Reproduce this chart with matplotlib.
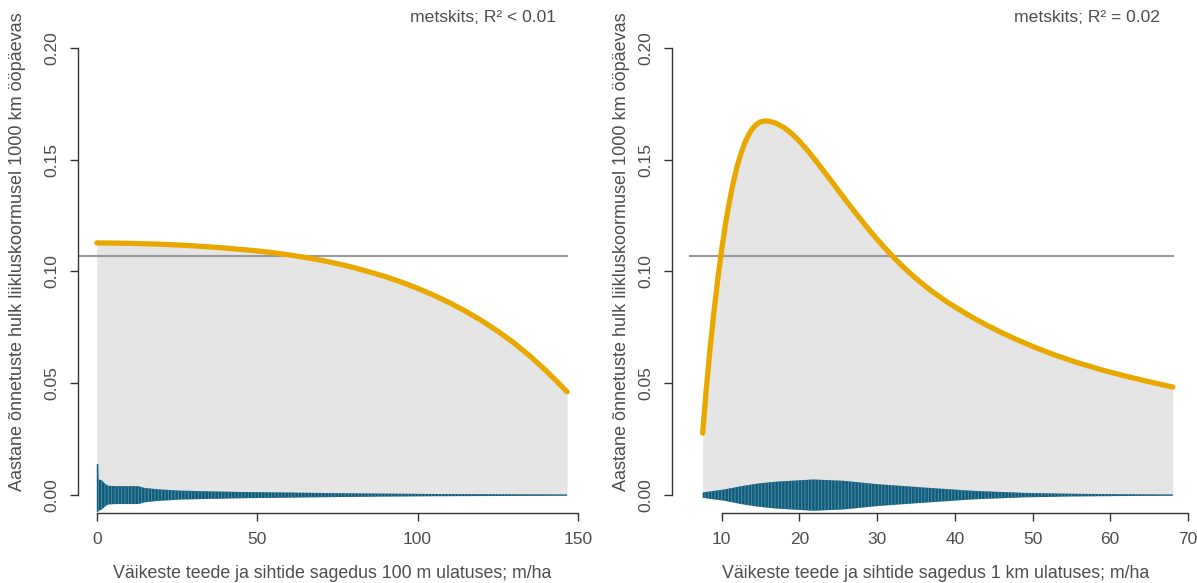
import matplotlib
matplotlib.use("Agg")
import matplotlib.pyplot as plt

plt.rcParams["font.family"] = ["Liberation Sans", "DejaVu Sans"]
plt.rcParams["hatch.linewidth"] = 0.6

# predicted accident rate, 100 m window
x_100m = [0, 10, 20, 30, 40, 50, 55, 60, 65, 70, 75, 80, 85, 90, 95, 100,
          105, 110, 115, 120, 125, 130, 135, 140, 143.3, 146.6]
y_100m = [0.1128, 0.1126, 0.1122, 0.1115, 0.1105, 0.1092, 0.1084, 0.1074,
          0.1063, 0.1050, 0.1035, 0.1018, 0.0998, 0.0977, 0.0952, 0.0925,
          0.0894, 0.0860, 0.0822, 0.0780, 0.0733, 0.0681, 0.0622, 0.0557,
          0.0510, 0.0462]
# confidence band around zero, 100 m window
band_x_100m = [0, 0.45, 0.55, 1.5, 2.5, 3.5, 6, 10, 13, 15, 19, 26, 35, 45,
               57, 73, 88, 105, 125, 146.6]
band_hi_100m = [0.0139, 0.0139, 0.0070, 0.0067, 0.0052, 0.0042, 0.0040, 0.0040,
                0.0040, 0.0032, 0.0026, 0.0020, 0.0017, 0.0014, 0.0012, 0.0009,
                0.0007, 0.0005, 0.0004, 0.0003]
band_lo_100m = [-0.0075, -0.0075, -0.0070, -0.0065, -0.0052, -0.0042, -0.0040,
                -0.0040, -0.0040, -0.0032, -0.0026, -0.0020, -0.0017, -0.0014,
                -0.0012, -0.0009, -0.0007, -0.0005, -0.0004, -0.0003]
mean_x_100m = [-5.5, 146.6]

# predicted accident rate, 1 km window
x_1km = [7.55, 8.0, 8.5, 9.0, 9.5, 10.0, 10.5, 11.0, 11.5, 12.0, 12.5, 13.0,
         13.5, 14.0, 14.5, 15.0, 15.5, 16.0, 17, 18, 19, 20, 21, 22, 23, 24,
         25, 26, 27, 28, 29, 30, 31, 32, 33, 34, 35, 36, 37, 38, 39, 40, 42,
         44, 46, 48, 50, 53, 56, 59, 62, 65, 68.06]
y_1km = [0.0277, 0.0470, 0.0655, 0.0820, 0.0968, 0.1100, 0.1215, 0.1315,
         0.1400, 0.1472, 0.1530, 0.1578, 0.1614, 0.1641, 0.1659, 0.1669,
         0.1673, 0.1673, 0.1663, 0.1644, 0.1617, 0.1583, 0.1543, 0.1500,
         0.1455, 0.1409, 0.1363, 0.1317, 0.1272, 0.1228, 0.1185, 0.1144,
         0.1105, 0.1068, 0.1033, 0.1000, 0.0969, 0.0940, 0.0913, 0.0888,
         0.0864, 0.0842, 0.0800, 0.0762, 0.0727, 0.0695, 0.0665, 0.0625,
         0.0590, 0.0559, 0.0532, 0.0507, 0.0483]
band_x_1km = [7.55, 10.3, 12.5, 14.7, 17, 18.9, 21.8, 25.7, 30, 36, 42.4, 48.9,
              55.3, 61.8, 68.06]
band_hw_1km = [0.0012, 0.0025, 0.0040, 0.0052, 0.0060, 0.0064, 0.0070, 0.0064,
               0.0049, 0.0034, 0.0019, 0.0010, 0.0006, 0.0004, 0.0003]
mean_x_1km = [5.9, 68.06]

mean_rate = 0.107
r2_labels = ["metskits; R\u00b2 < 0.01", "metskits; R\u00b2 = 0.02"]
xlabels = ["V\u00e4ikeste teede ja sihtide sagedus 100 m ulatuses; m/ha",
           "V\u00e4ikeste teede ja sihtide sagedus 1 km ulatuses; m/ha"]
ylabel = "Aastane \u00f5nnetuste hulk liikluskoormusel 1000 km \u00f6\u00f6p\u00e4evas"

W, H = 1197, 583
fig = plt.figure(figsize=(W / 100, H / 100), dpi=100)
ax1 = fig.add_axes([78 / W, 70 / H, 508 / W, 483 / H])
ax2 = fig.add_axes([672 / W, 70 / H, 519 / W, 483 / H])

ORANGE = "#E8A800"
TEAL = "#0E5C7C"
TXT = "#4D4D4D"


def panel(ax, x, y, bx, blo, bhi, mx, xticks, xlim, title):
    ax.fill_between(x, 0, y, color="#E5E5E5", lw=0, zorder=1)
    ax.plot(mx, [mean_rate, mean_rate], color="#999999", lw=1.5, zorder=2)
    ax.fill_between(bx, blo, bhi, facecolor=TEAL, edgecolor="#5E93AA",
                    hatch="|||||", lw=0, zorder=3)
    ax.plot(x, y, color=ORANGE, lw=3.8, solid_capstyle="round",
            solid_joinstyle="round", zorder=4)

    ax.set_xlim(*xlim)
    ax.set_ylim(-0.008, 0.208)
    ax.set_xticks(xticks)
    ax.set_xticklabels([str(t) for t in xticks])
    yt = [0, 0.05, 0.10, 0.15, 0.20]
    ax.set_yticks(yt)
    ax.set_yticklabels(["%.2f" % t for t in yt], rotation=90, va="center")
    for s in ["top", "right"]:
        ax.spines[s].set_visible(False)
    ax.spines["left"].set_bounds(0, 0.2)
    ax.spines["bottom"].set_bounds(xticks[0], xticks[-1])
    for s in ["left", "bottom"]:
        ax.spines[s].set_color("#333333")
        ax.spines[s].set_linewidth(1.0)
    ax.tick_params(axis="both", direction="out", length=5.5, width=1.0,
                   color="#333333", labelcolor=TXT, labelsize=12.5)
    ax.tick_params(axis="x", pad=8)
    ax.tick_params(axis="y", pad=8)
    ax.text(0.94, 1.025, title, transform=ax.transAxes, ha="right",
            va="center", fontsize=12.6, color=TXT)


panel(ax1, x_100m, y_100m, band_x_100m, band_lo_100m, band_hi_100m,
      mean_x_100m, [0, 50, 100, 150], (-5.86, 152.5), r2_labels[0])
panel(ax2, x_1km, y_1km, band_x_1km, [-v for v in band_hw_1km], band_hw_1km,
      mean_x_1km, [10, 20, 30, 40, 50, 60, 70], (3.6, 70.4), r2_labels[1])

fig.text(332 / W, 1 - 574 / H, xlabels[0], ha="center", va="center",
         fontsize=12.8, color=TXT)
fig.text(936 / W, 1 - 573 / H, xlabels[1], ha="center", va="center",
         fontsize=12.8, color=TXT)
fig.text(18 / W, 1 - 252 / H, ylabel, rotation=90, ha="center", va="center",
         fontsize=13, color=TXT)
fig.text(622 / W, 1 - 252 / H, ylabel, rotation=90, ha="center", va="center",
         fontsize=13, color=TXT)

fig.savefig("out.png", dpi=100)
